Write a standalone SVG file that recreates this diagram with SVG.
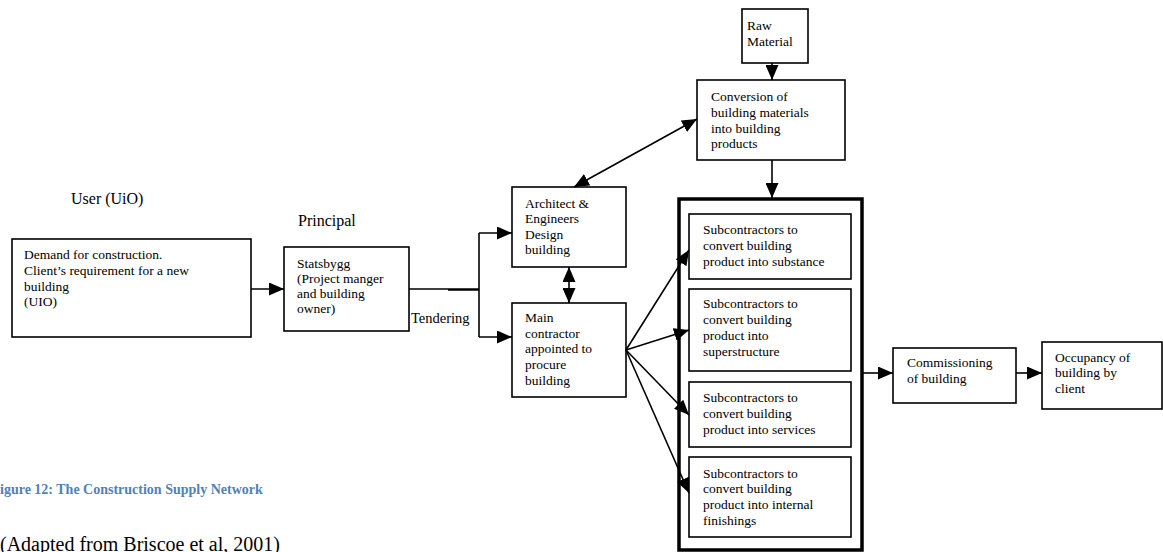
<svg xmlns="http://www.w3.org/2000/svg" width="1163" height="552" viewBox="0 0 1163 552">
<style>
.box{fill:#fff;stroke:#000;stroke-width:1.6}
.big{fill:#fff;stroke:#000;stroke-width:3.5}
.t{font-family:"Liberation Serif","Times New Roman",serif;font-size:13.5px;fill:#000}
.lbl{font-family:"Liberation Serif","Times New Roman",serif;font-size:16px;fill:#000}
.c{stroke:#000;stroke-width:1.6;fill:none}
.cap{font-family:"Liberation Serif","Times New Roman",serif;font-size:14px;font-weight:bold;fill:#4F81BD}
.src{font-family:"Liberation Serif","Times New Roman",serif;font-size:20px;fill:#000}
</style>
<defs>
<marker id="ah" viewBox="0 0 15 13" refX="15" refY="6.5" markerWidth="15" markerHeight="13" markerUnits="userSpaceOnUse" orient="auto-start-reverse">
<path d="M0,0 L15,6.5 L0,13 z" fill="#000"/>
</marker>
</defs>
<rect width="1163" height="552" fill="#fff"/>

<text class="lbl" x="71" y="204">User (UiO)</text>
<text class="lbl" x="298" y="226">Principal</text>

<g id="big-box"><rect class="big" x="679" y="199" width="183" height="351"/></g>

<g id="demand"><rect class="box" x="12" y="239" width="239" height="98"/>
<text class="t" x="24" y="259">Demand for construction.</text>
<text class="t" x="24" y="275">Client’s requirement for a new</text>
<text class="t" x="24" y="291">building</text>
<text class="t" x="24" y="306">(UIO)</text></g>

<g id="statsbygg"><rect class="box" x="284" y="247" width="125" height="84"/>
<text class="t" x="297" y="268">Statsbygg</text>
<text class="t" x="297" y="283">(Project manger</text>
<text class="t" x="297" y="298">and building</text>
<text class="t" x="297" y="313">owner)</text></g>

<g id="architect"><rect class="box" x="512" y="187" width="114" height="80"/>
<text class="t" x="525" y="207.5">Architect &amp;</text>
<text class="t" x="525" y="223">Engineers</text>
<text class="t" x="525" y="238.5">Design</text>
<text class="t" x="525" y="254">building</text></g>

<g id="main-contractor"><rect class="box" x="512" y="303" width="114" height="94"/>
<text class="t" x="525" y="322">Main</text>
<text class="t" x="525" y="337.7">contractor</text>
<text class="t" x="525" y="353.4">appointed to</text>
<text class="t" x="525" y="369">procure</text>
<text class="t" x="525" y="384.7">building</text></g>

<g id="raw-material"><rect class="box" x="742" y="9" width="66" height="54"/>
<text class="t" x="747" y="29.5">Raw</text>
<text class="t" x="747" y="45.7">Material</text></g>

<g id="conversion"><rect class="box" x="697" y="80" width="148" height="80"/>
<text class="t" x="711" y="101">Conversion of</text>
<text class="t" x="711" y="117">building materials</text>
<text class="t" x="711" y="132.7">into building</text>
<text class="t" x="711" y="148.3">products</text></g>

<g id="sub-substance"><rect class="box" x="689" y="214" width="162" height="65"/>
<text class="t" x="703" y="234">Subcontractors to</text>
<text class="t" x="703" y="250">convert building</text>
<text class="t" x="703" y="266">product into substance</text></g>

<g id="sub-superstructure"><rect class="box" x="689" y="289" width="162" height="82"/>
<text class="t" x="703" y="308">Subcontractors to</text>
<text class="t" x="703" y="324">convert building</text>
<text class="t" x="703" y="340">product into</text>
<text class="t" x="703" y="355.7">superstructure</text></g>

<g id="sub-services"><rect class="box" x="689" y="382" width="162" height="65"/>
<text class="t" x="703" y="402">Subcontractors to</text>
<text class="t" x="703" y="417.5">convert building</text>
<text class="t" x="703" y="433.5">product into services</text></g>

<g id="sub-finishings"><rect class="box" x="689" y="457" width="162" height="80"/>
<text class="t" x="703" y="477.7">Subcontractors to</text>
<text class="t" x="703" y="493">convert building</text>
<text class="t" x="703" y="509">product into internal</text>
<text class="t" x="703" y="525">finishings</text></g>

<g id="commissioning"><rect class="box" x="893" y="348" width="123" height="55"/>
<text class="t" x="907" y="366.7">Commissioning</text>
<text class="t" x="907" y="383.3">of building</text></g>

<g id="occupancy"><rect class="box" x="1042" y="342" width="120" height="67"/>
<text class="t" x="1055" y="361.7">Occupancy of</text>
<text class="t" x="1055" y="377.3">building by</text>
<text class="t" x="1055" y="393.3">client</text></g>

<g id="connectors">
<line class="c" x1="251" y1="289" x2="284" y2="289" marker-end="url(#ah)"/>
<path class="c" d="M409,289 H479 M448,290 H479"/>
<path class="c" d="M479,233 V337"/>
<line class="c" x1="479" y1="233" x2="512" y2="233" marker-end="url(#ah)"/>
<line class="c" x1="479" y1="337" x2="512" y2="337" marker-end="url(#ah)"/>
<line class="c" x1="569" y1="267" x2="569" y2="303" marker-start="url(#ah)" marker-end="url(#ah)"/>
<line class="c" x1="574" y1="187" x2="697" y2="119" marker-start="url(#ah)" marker-end="url(#ah)"/>
<line class="c" x1="772" y1="63" x2="772" y2="80" marker-end="url(#ah)"/>
<line class="c" x1="772" y1="160" x2="772" y2="198" marker-end="url(#ah)"/>
<line class="c" x1="626" y1="350" x2="689" y2="250" marker-end="url(#ah)"/>
<line class="c" x1="626" y1="350" x2="689" y2="330" marker-end="url(#ah)"/>
<line class="c" x1="626" y1="350" x2="689" y2="415" marker-end="url(#ah)"/>
<line class="c" x1="626" y1="350" x2="689" y2="493" marker-end="url(#ah)"/>
<line class="c" x1="862" y1="373" x2="893" y2="373" marker-end="url(#ah)"/>
<line class="c" x1="1016" y1="373" x2="1042" y2="373" marker-end="url(#ah)"/>
</g>
<text class="t" x="411" y="323" style="font-size:14.5px">Tendering</text>

<text class="cap" x="0" y="494">igure 12: The Construction Supply Network</text>
<text class="src" x="0" y="551">(Adapted from Briscoe et al, 2001)</text>
</svg>
